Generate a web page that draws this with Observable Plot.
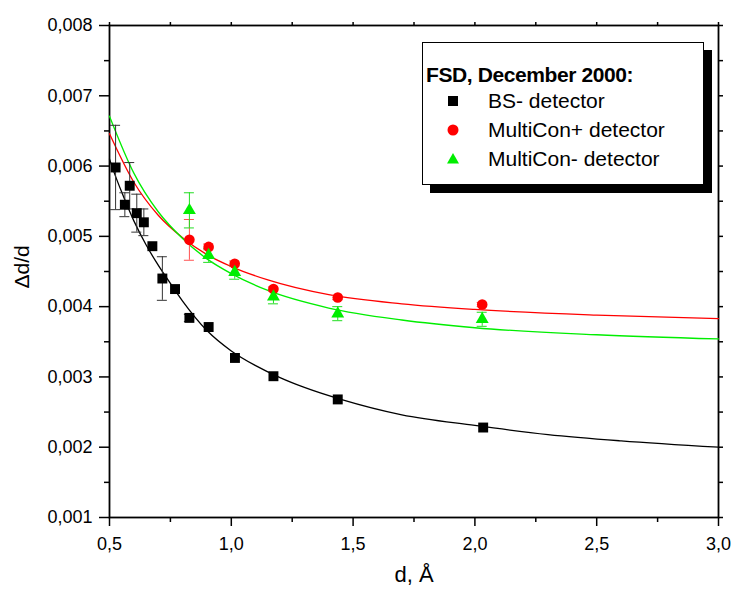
<!DOCTYPE html>
<html>
<head>
<meta charset="utf-8">
<script src="https://cdn.jsdelivr.net/npm/d3@7"></script>
<script src="https://cdn.jsdelivr.net/npm/@observablehq/plot@0.6"></script>
<style>
  html, body { margin: 0; padding: 0; background: #fff; }
  #wrap { position: relative; width: 732px; height: 592px; font-family: "Liberation Sans", Arial, sans-serif; }
  #legend { position: absolute; left: 422px; top: 42px; width: 280px; height: 141px; background: #fff;
            border: 1px solid #000; box-shadow: 8px 8px 0 #000; }
  #legend .title { position: absolute; left: 3px; top: 20px; font-weight: bold; font-size: 21px; letter-spacing: -0.4px; white-space: nowrap; }
  #legend .row { position: absolute; left: 18px; height: 24px; font-size: 21px; white-space: nowrap; display: flex; align-items: center; }
  #legend .row svg { width: 24px; height: 24px; margin-right: 23px; }
</style>
</head>
<body>
<div id="wrap"><div id="chart"></div><div id="legend"></div></div>
<script>
// ---- data ----
const blackX   = [0.525, 0.563, 0.583, 0.612, 0.641, 0.676, 0.717, 0.769, 0.828, 0.907, 1.015, 1.173, 1.437, 2.034];
const blackY   = [0.00598, 0.00545, 0.00572, 0.00533, 0.00520, 0.00486, 0.00440, 0.00425, 0.00384, 0.00371, 0.00327, 0.00301, 0.00268, 0.00228];
const blackErr = [0.00060, 0.00017, 0.00033, 0.00027, 0.00019, 0, 0.00031, 0, 0.00005, 0, 0, 0, 0, 0];

const redX   = [0.828, 0.907, 1.014, 1.173, 1.437, 2.030];
const redY   = [0.00495, 0.00485, 0.00461, 0.00425, 0.00413, 0.00403];
const redErr = [0.00029, 0.00004, 0.00004, 0.00003, 0.00003, 0.00003];

const greenX   = [0.828, 0.907, 1.014, 1.173, 1.437, 2.030];
const greenY   = [0.00537, 0.00473, 0.00449, 0.00414, 0.00390, 0.00382];
const greenErr = [0.00025, 0.00010, 0.00010, 0.00010, 0.00010, 0.00010];

// fitted curves
const blackFitX = [0.5, 0.52, 0.55, 0.6, 0.65, 0.7, 0.75, 0.8, 0.9, 1.0, 1.1, 1.2, 1.3, 1.45, 1.7, 2.0, 2.3, 2.6, 3.0];
const blackFitY = [0.00610, 0.00590, 0.00563, 0.00522, 0.00488, 0.00459, 0.00433, 0.00408, 0.00366, 0.00337, 0.00316, 0.00299, 0.00285, 0.00268, 0.00246, 0.00231, 0.00218, 0.00209, 0.00200];
const redFitX = [0.5, 0.6, 0.7, 0.8, 0.9, 1.0, 1.15, 1.4, 1.7, 2.0, 2.5, 3.0];
const redFitY = [0.00646, 0.00577, 0.00530, 0.00498, 0.00474, 0.00457, 0.00438, 0.00417, 0.00404, 0.00396, 0.00388, 0.00383];
const greenFitX = [0.5, 0.6, 0.7, 0.8, 0.9, 1.0, 1.15, 1.4, 1.7, 2.0, 2.5, 3.0];
const greenFitY = [0.00671, 0.00590, 0.00535, 0.00497, 0.00468, 0.00447, 0.00423, 0.00398, 0.00381, 0.00370, 0.00360, 0.00354];

const xMajor = [0.5, 1.0, 1.5, 2.0, 2.5, 3.0];
const xMinor = [0.75, 1.25, 1.75, 2.25, 2.75];
const yMajor = [0.001, 0.002, 0.003, 0.004, 0.005, 0.006, 0.007, 0.008];
const yMinor = [0.0015, 0.0025, 0.0035, 0.0045, 0.0055, 0.0065, 0.0075];

const legendTitle = "FSD, December 2000:";
const seriesNames = ["BS- detector", "MultiCon+ detector", "MultiCon- detector"];
const seriesColors = ["#000000", "#ff0000", "#00ee00"];

// ---- build tables ----
const pts = (X, Y, E) => X.map((x, i) => ({x, y: Y[i], e: E[i]}));
const fit = (X, Y) => X.map((x, i) => ({x, y: Y[i]}));
const black = pts(blackX, blackY, blackErr);
const red = pts(redX, redY, redErr);
const green = pts(greenX, greenY, greenErr);
const withErr = a => a.filter(d => d.e > 0);

const comma = f => v => d3.format(f)(v).replace(".", ",");
const font = "Liberation Sans, Arial, sans-serif";

function errMarks(data, color) {
  const d = withErr(data);
  return [
    Plot.ruleX(d, {x: "x", y1: r => r.y - r.e, y2: r => r.y + r.e, stroke: color, strokeWidth: 1}),
    Plot.ruleY(d, {y: r => r.y + r.e, x1: "x", x2: "x", insetLeft: -5, insetRight: -5, stroke: color, strokeWidth: 1}),
    Plot.ruleY(d, {y: r => r.y - r.e, x1: "x", x2: "x", insetLeft: -5, insetRight: -5, stroke: color, strokeWidth: 1})
  ];
}

const chart = Plot.plot({
  width: 732,
  height: 592,
  marginTop: 25,
  marginRight: 14,
  marginBottom: 75,
  marginLeft: 109,
  style: {fontFamily: font, background: "#fff"},
  x: {domain: [0.5, 3.0]},
  y: {domain: [0.001, 0.008]},
  marks: [
    Plot.axisX({ticks: xMajor, tickSize: 9, tickPadding: 11, tickFormat: comma(".1f"), fontSize: 18, label: null, strokeWidth: 1.5}),
    Plot.axisX({ticks: xMinor, tickSize: 5, tickFormat: () => "", label: null, strokeWidth: 1.5}),
    Plot.axisX({anchor: "top", ticks: xMajor.concat(xMinor), tickSize: 4, tickFormat: () => "", label: null, strokeWidth: 1.5}),
    Plot.axisY({ticks: yMajor, tickSize: 10, tickPadding: 7, tickFormat: comma(".3f"), fontSize: 18, label: null, strokeWidth: 1.5}),
    Plot.axisY({ticks: yMinor, tickSize: 5, tickFormat: () => "", label: null, strokeWidth: 1.5}),
    Plot.axisY({anchor: "right", ticks: yMajor.concat(yMinor), tickSize: 4, tickFormat: () => "", label: null, strokeWidth: 1.5}),
    Plot.frame({stroke: "#000", strokeWidth: 1.8}),
    Plot.text(["d, Å"], {frameAnchor: "bottom", dy: 64, fontSize: 22, fill: "#000"}),
    Plot.text(["Δd/d"], {frameAnchor: "left", dx: -87, dy: 17, rotate: -90, fontSize: 21, fill: "#000"}),
    Plot.line(fit(blackFitX, blackFitY), {x: "x", y: "y", stroke: "#000", strokeWidth: 1.3, curve: "monotone-x"}),
    Plot.line(fit(redFitX, redFitY), {x: "x", y: "y", stroke: "#ff0000", strokeWidth: 1.3, curve: "monotone-x"}),
    Plot.line(fit(greenFitX, greenFitY), {x: "x", y: "y", stroke: "#00ee00", strokeWidth: 1.3, curve: "monotone-x"}),
    ...errMarks(black, "#333"),
    ...errMarks(red, "#ff5050"),
    ...errMarks(green, "#22dd22"),
    Plot.dot(black, {x: "x", y: "y", symbol: "square", r: 5.6, fill: "#000", stroke: "none"}),
    Plot.dot(red, {x: "x", y: "y", symbol: "circle", r: 5.3, fill: "#ff0000", stroke: "none"}),
    Plot.dot(green, {x: "x", y: "y", symbol: "triangle", r: 4.8, fill: "#00ee00", stroke: "none"})
  ]
});
document.getElementById("chart").appendChild(chart);

// ---- legend ----
const lg = document.getElementById("legend");
const t = document.createElement("div");
t.className = "title"; t.textContent = legendTitle; lg.appendChild(t);
const symPaths = [
  '<rect x="7" y="7" width="10" height="10" fill="#000"/>',
  '<circle cx="12" cy="12" r="5.5" fill="#ff0000"/>',
  '<path d="M12 6 L18 16.5 L6 16.5 Z" fill="#00ee00"/>'
];
seriesNames.forEach((name, i) => {
  const r = document.createElement("div");
  r.className = "row";
  r.style.top = (46 + i * 29) + "px";
  r.innerHTML = '<svg viewBox="0 0 24 24">' + symPaths[i] + '</svg><span>' + name + '</span>';
  lg.appendChild(r);
});
</script>
</body>
</html>
